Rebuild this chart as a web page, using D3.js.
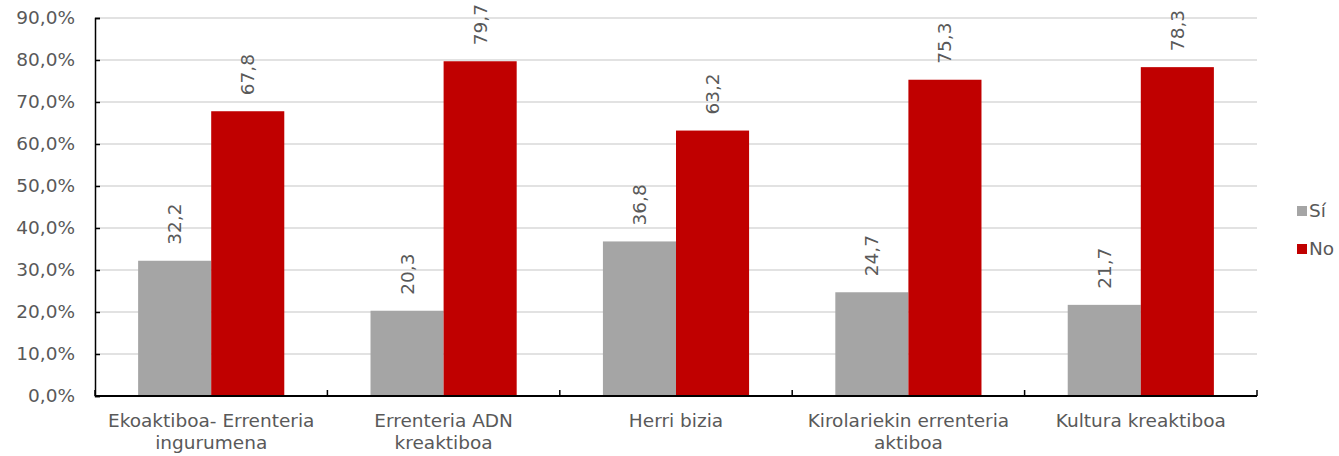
<!DOCTYPE html>
<html>
<head>
<meta charset="utf-8">
<script src="https://cdn.jsdelivr.net/npm/d3@7"></script>
<style>
  body { margin: 0; background: #fff; }
  svg text { font-family: "DejaVu Sans", Verdana, sans-serif; fill: #595959; }
</style>
</head>
<body>
<div id="app"></div>
<script>
const WIDTH = 1339
const HEIGHT = 456

const categories = [
  ['Ekoaktiboa- Errenteria', 'ingurumena'],
  ['Errenteria ADN', 'kreaktiboa'],
  ['Herri bizia'],
  ['Kirolariekin errenteria', 'aktiboa'],
  ['Kultura kreaktiboa']
]
const seriesNames = ['Sí', 'No']
const siValues = [32.2, 20.3, 36.8, 24.7, 21.7]
const noValues = [67.8, 79.7, 63.2, 75.3, 78.3]
const yTicks = [0, 10, 20, 30, 40, 50, 60, 70, 80, 90]
const colors = ['#a5a5a5', '#c00000']

const margin = { top: 18, right: 82, bottom: 60, left: 95 }

const svg = d3.select('#app').append('svg')
  .attr('width', WIDTH)
  .attr('height', HEIGHT)

const x0 = d3.scaleBand()
  .domain(d3.range(categories.length))
  .range([margin.left, WIDTH - margin.right])
  .paddingInner(0)
  .paddingOuter(0)

const x1 = d3.scaleBand()
  .domain([0, 1])
  .range([0, x0.bandwidth()])
  .paddingOuter(0.59)
  .paddingInner(0)

const y = d3.scaleLinear()
  .domain([0, 90])
  .range([HEIGHT - margin.bottom, margin.top])

// gridlines
svg.append('g')
  .selectAll('line')
  .data(yTicks.slice(1))
  .enter().append('line')
  .attr('x1', margin.left)
  .attr('x2', WIDTH - margin.right)
  .attr('y1', d => y(d))
  .attr('y2', d => y(d))
  .attr('stroke', '#d9d9d9')
  .attr('stroke-width', 1.5)

const rows = categories.map((c, i) => [siValues[i], noValues[i]])

const group = svg.append('g')
  .selectAll('g')
  .data(rows)
  .enter().append('g')
  .attr('transform', (d, i) => 'translate(' + x0(i) + ',0)')

group.selectAll('rect')
  .data(d => d)
  .enter().append('rect')
  .attr('x', (d, j) => x1(j))
  .attr('width', x1.bandwidth())
  .attr('y', d => y(d))
  .attr('height', d => y(0) - y(d))
  .attr('fill', (d, j) => colors[j])

group.selectAll('text.lbl')
  .data(d => d)
  .enter().append('text')
  .attr('class', 'lbl')
  .attr('transform', (d, j) => 'translate(' + (x1(j) + x1.bandwidth() / 2) + ',' + (y(d) - 16) + ') rotate(-90)')
  .attr('dy', '0.35em')
  .attr('text-anchor', 'start')
  .style('font-size', '18.5px')
  .text(d => d.toFixed(1).replace('.', ','))

// y axis
const yAxis = d3.axisLeft(y)
  .tickValues(yTicks)
  .tickSize(-5)
  .tickPadding(20)
  .tickFormat(d => d.toFixed(1).replace('.', ',') + '%')

const yg = svg.append('g')
  .attr('transform', 'translate(' + margin.left + ',0)')
  .call(yAxis)
yg.select('.domain').attr('stroke', '#000').attr('stroke-width', 1.5)
yg.selectAll('.tick line').attr('stroke', '#000').attr('stroke-width', 1.5)
yg.selectAll('text').style('font-size', '18.5px').attr('fill', '#595959')

// x axis
const xAxisY = y(0)
svg.append('line')
  .attr('x1', margin.left)
  .attr('x2', WIDTH - margin.right)
  .attr('y1', xAxisY)
  .attr('y2', xAxisY)
  .attr('stroke', '#000')
  .attr('stroke-width', 2)

svg.append('g')
  .selectAll('line')
  .data(d3.range(categories.length + 1))
  .enter().append('line')
  .attr('x1', i => margin.left + i * x0.step())
  .attr('x2', i => margin.left + i * x0.step())
  .attr('y1', xAxisY)
  .attr('y2', xAxisY - 6)
  .attr('stroke', '#000')
  .attr('stroke-width', 1.5)

const xl = svg.append('g')
  .selectAll('text')
  .data(categories)
  .enter().append('text')
  .attr('x', (d, i) => x0(i) + x0.bandwidth() / 2)
  .attr('y', xAxisY + 31)
  .attr('text-anchor', 'middle')
  .style('font-size', '18.5px')

xl.selectAll('tspan')
  .data(d => d)
  .enter().append('tspan')
  .attr('x', function () { return d3.select(this.parentNode).attr('x') })
  .attr('dy', (d, k) => k === 0 ? 0 : 22)
  .text(d => d)

// legend
const legend = svg.append('g')
  .selectAll('g')
  .data(seriesNames)
  .enter().append('g')
  .attr('transform', (d, i) => 'translate(1297,' + (211 + i * 38) + ')')

legend.append('rect')
  .attr('x', 0)
  .attr('y', -5)
  .attr('width', 10)
  .attr('height', 10)
  .attr('fill', (d, i) => colors[i])

legend.append('text')
  .attr('x', 12)
  .attr('dy', '0.35em')
  .style('font-size', '18.5px')
  .text(d => d)
</script>
</body>
</html>
